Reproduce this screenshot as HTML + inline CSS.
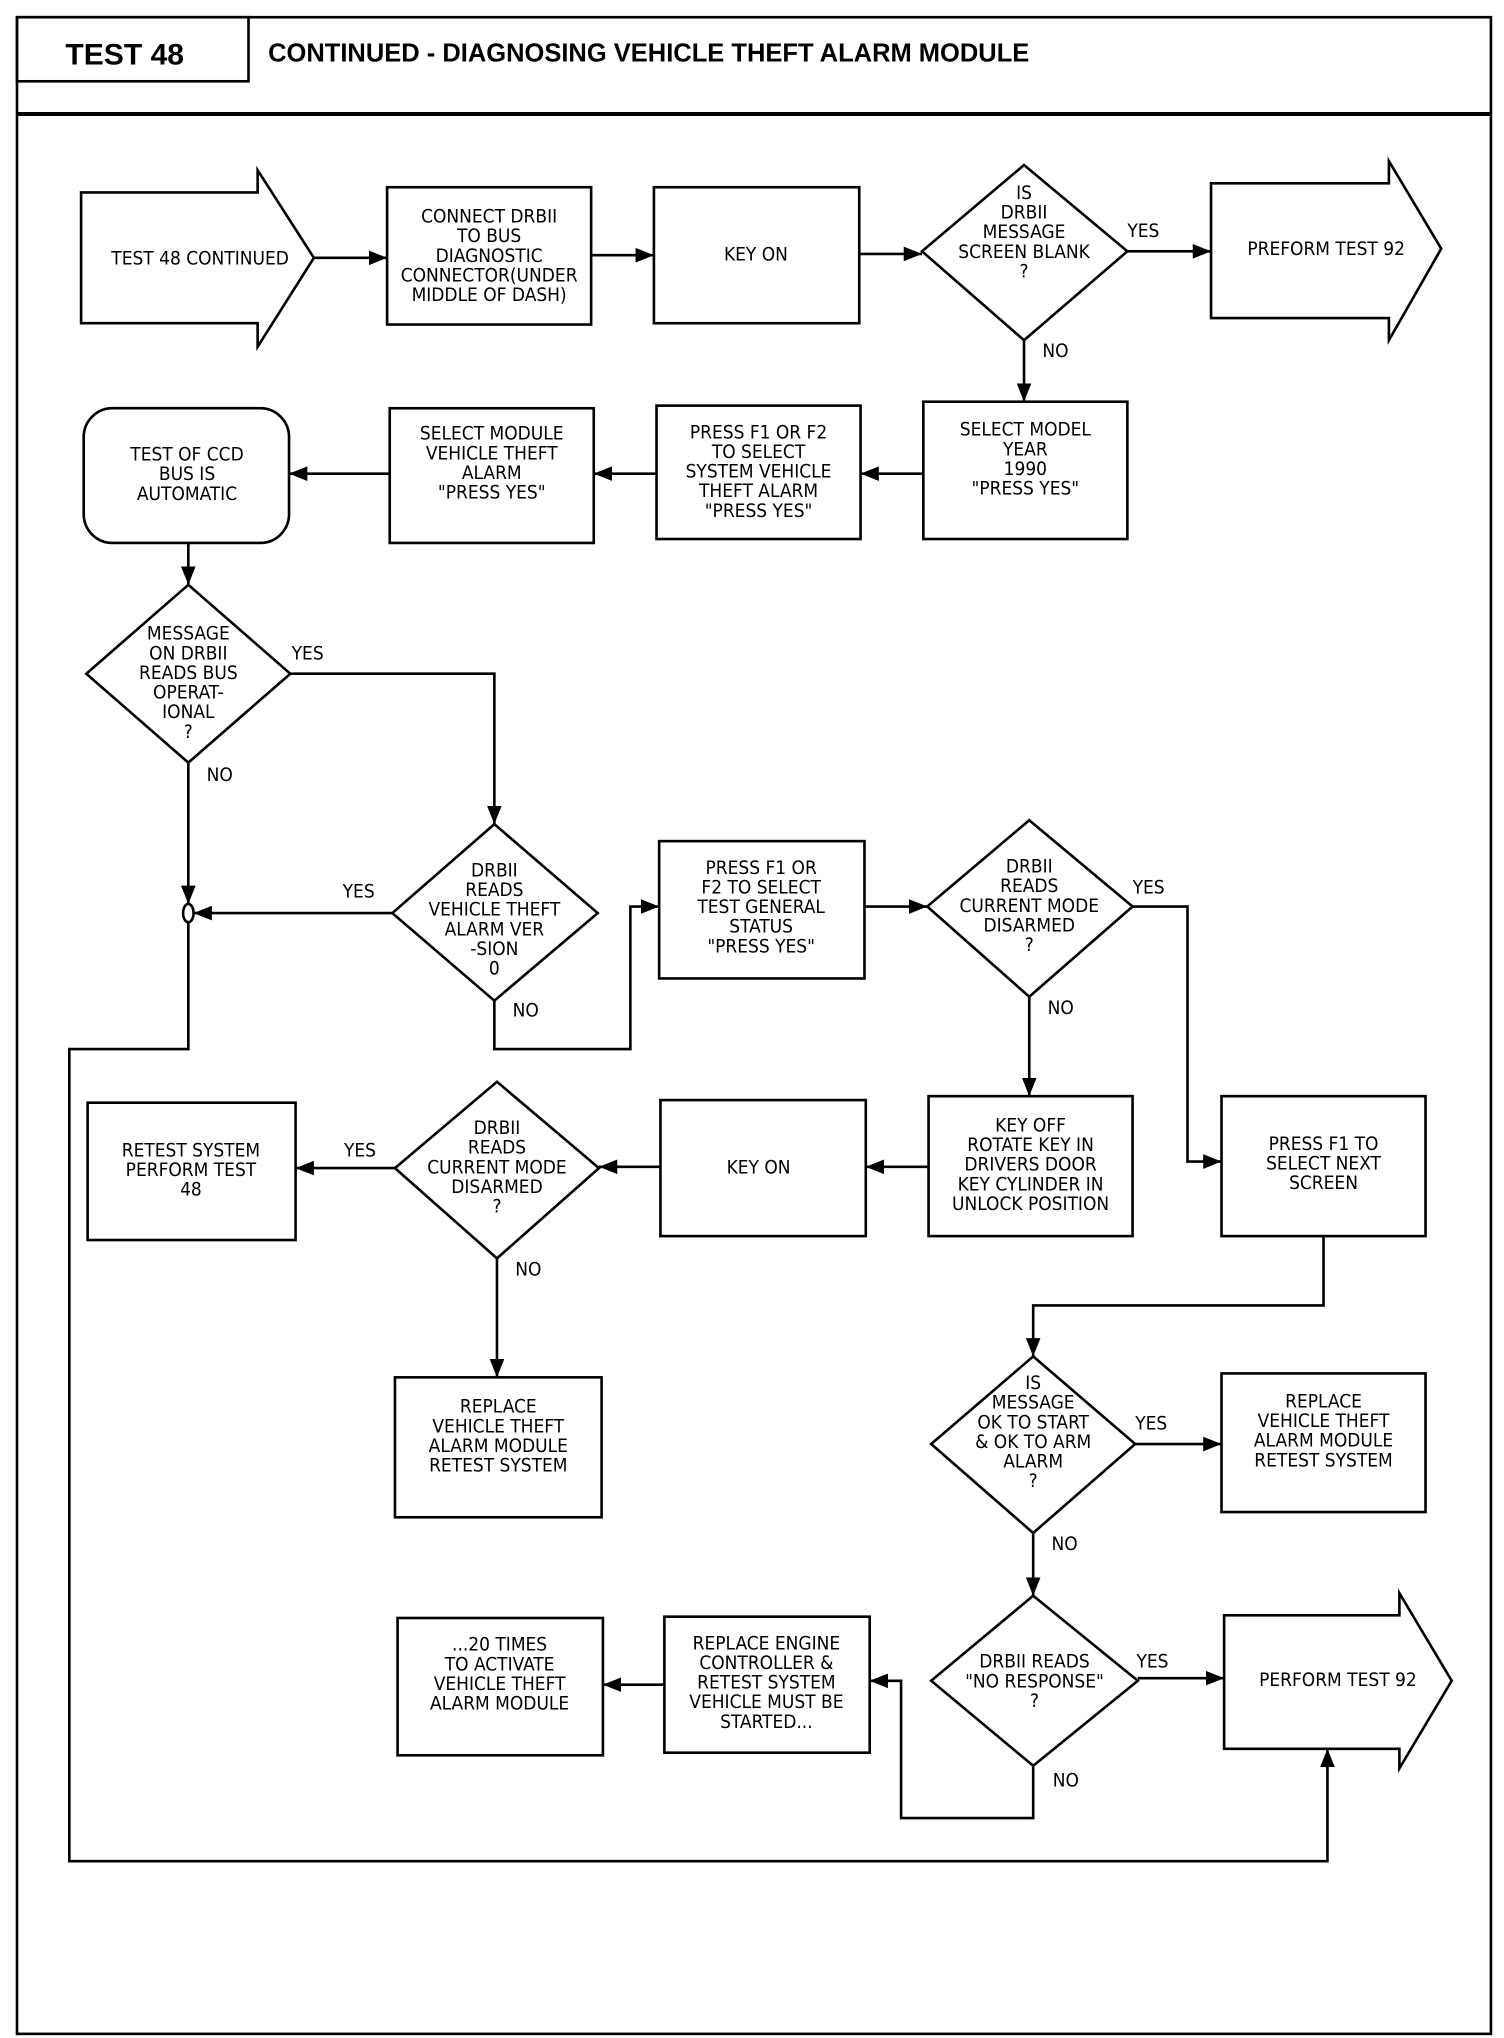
<!DOCTYPE html>
<html><head><meta charset="utf-8"><style>
html,body{margin:0;padding:0;background:#fff;}
svg{display:block;}
text{font-family:"DejaVu Sans Condensed","Liberation Sans Narrow","Liberation Sans",sans-serif;font-size:14.5px;fill:#000;text-anchor:middle;}
.l{text-anchor:start;}
.t{font-family:"Liberation Sans",sans-serif;font-weight:bold;text-anchor:start;}
</style></head><body>
<svg width="1504" height="2038" viewBox="0 0 1150 1558" xmlns="http://www.w3.org/2000/svg">
<defs><marker id="a" viewBox="0 0 10 10" refX="10" refY="5" markerWidth="7" markerHeight="7" orient="auto"><path d="M0,1 L10,5 L0,9 z" fill="#000"/></marker></defs>
<g fill="none" stroke="#000" stroke-width="2">
<rect x="13" y="13" width="1127" height="1542"/>
<line x1="13" y1="87" x2="1140" y2="87" stroke-width="3"/>
<rect x="13" y="13" width="177" height="49"/>
<polygon points="62,147 197,147 197,130 240,197 197,265 197,247 62,247"/>
<rect x="296" y="143" width="156" height="105"/>
<rect x="500" y="143" width="157" height="104"/>
<polygon points="783,126 862,192 783,260 705,192"/>
<polygon points="926,140 1062,140 1062,123 1102,190 1062,260 1062,243 926,243"/>
<rect x="706" y="307" width="156" height="105"/>
<rect x="502" y="310" width="156" height="102"/>
<rect x="298" y="312" width="156" height="103"/>
<rect x="64" y="312" width="157" height="103" rx="22"/>
<polygon points="144,447 222,515 144,583 66,515"/>
<polygon points="378,630 457,698 378,765 300,698"/>
<rect x="504" y="643" width="157" height="105"/>
<polygon points="787,627 866,693 787,762 709,693"/>
<rect x="710" y="838" width="156" height="107"/>
<rect x="934" y="838" width="156" height="107"/>
<rect x="505" y="841" width="157" height="104"/>
<polygon points="380,827 458,893 380,962 302,893"/>
<rect x="67" y="843" width="159" height="105"/>
<rect x="302" y="1053" width="158" height="107"/>
<polygon points="790,1037 868,1104 790,1172 712,1104"/>
<rect x="934" y="1050" width="156" height="106"/>
<polygon points="790,1220 870,1285 790,1350 712,1285"/>
<polygon points="936,1235 1070,1235 1070,1218 1110,1285 1070,1352 1070,1337 936,1337"/>
<rect x="508" y="1236" width="157" height="104"/>
<rect x="304" y="1237" width="157" height="105"/>
<ellipse cx="144" cy="698" rx="4" ry="7"/>
</g>
<g fill="none" stroke="#000" stroke-width="2" marker-end="url(#a)">
<line x1="240" y1="197" x2="296" y2="197"/>
<line x1="452" y1="195" x2="500" y2="195"/>
<line x1="657" y1="194" x2="705" y2="194"/>
<line x1="862" y1="192" x2="926" y2="192"/>
<line x1="783" y1="260" x2="783" y2="307"/>
<line x1="706" y1="362" x2="658" y2="362"/>
<line x1="502" y1="362" x2="454" y2="362"/>
<line x1="298" y1="362" x2="221" y2="362"/>
<line x1="144" y1="415" x2="144" y2="447"/>
<polyline points="222,515 378,515 378,630"/>
<line x1="144" y1="583" x2="144" y2="691"/>
<line x1="300" y1="698" x2="148" y2="698"/>
<polyline points="378,765 378,802 482,802 482,693 504,693"/>
<line x1="661" y1="693" x2="709" y2="693"/>
<polyline points="866,693 908,693 908,888 934,888"/>
<line x1="787" y1="762" x2="787" y2="838"/>
<line x1="710" y1="892" x2="662" y2="892"/>
<line x1="505" y1="892" x2="458" y2="892"/>
<line x1="302" y1="893" x2="226" y2="893"/>
<line x1="380" y1="962" x2="380" y2="1053"/>
<polyline points="1012,945 1012,998 790,998 790,1037"/>
<line x1="868" y1="1104" x2="934" y2="1104"/>
<line x1="790" y1="1172" x2="790" y2="1220"/>
<line x1="870" y1="1283" x2="936" y2="1283"/>
<polyline points="790,1350 790,1390 689,1390 689,1285 665,1285"/>
<line x1="508" y1="1288" x2="461" y2="1288"/>
<polyline points="144,705 144,802 53,802 53,1423 1015,1423 1015,1337"/>
</g>
<text class="t" x="50" y="49" style="font-size:23px">TEST 48</text>
<text class="t" x="205" y="47" style="font-size:19.5px">CONTINUED - DIAGNOSING VEHICLE THEFT ALARM MODULE</text>
<text x="153" y="202">TEST 48 CONTINUED</text>
<text x="374" y="170">CONNECT DRBII</text><text x="374" y="185">TO BUS</text><text x="374" y="200">DIAGNOSTIC</text><text x="374" y="215">CONNECTOR(UNDER</text><text x="374" y="230">MIDDLE OF DASH)</text>
<text x="578" y="199">KEY ON</text>
<text x="783" y="152">IS</text><text x="783" y="167">DRBII</text><text x="783" y="182">MESSAGE</text><text x="783" y="197">SCREEN BLANK</text><text x="783" y="212">?</text>
<text x="1014" y="195">PREFORM TEST 92</text>
<text class="l" x="862" y="181">YES</text><text class="l" x="797" y="273">NO</text>
<text x="784" y="333">SELECT MODEL</text><text x="784" y="348">YEAR</text><text x="784" y="363">1990</text><text x="784" y="378">"PRESS YES"</text>
<text x="580" y="335">PRESS F1 OR F2</text><text x="580" y="350">TO SELECT</text><text x="580" y="365">SYSTEM VEHICLE</text><text x="580" y="380">THEFT ALARM</text><text x="580" y="395">"PRESS YES"</text>
<text x="376" y="336">SELECT MODULE</text><text x="376" y="351">VEHICLE THEFT</text><text x="376" y="366">ALARM</text><text x="376" y="381">"PRESS YES"</text>
<text x="143" y="352">TEST OF CCD</text><text x="143" y="367">BUS IS</text><text x="143" y="382">AUTOMATIC</text>
<text x="144" y="489">MESSAGE</text><text x="144" y="504">ON DRBII</text><text x="144" y="519">READS BUS</text><text x="144" y="534">OPERAT-</text><text x="144" y="549">IONAL</text><text x="144" y="564">?</text>
<text class="l" x="223" y="504">YES</text><text class="l" x="158" y="597">NO</text>
<text x="378" y="670">DRBII</text><text x="378" y="685">READS</text><text x="378" y="700">VEHICLE THEFT</text><text x="378" y="715">ALARM VER</text><text x="378" y="730">-SION</text><text x="378" y="745">0</text>
<text class="l" x="262" y="686">YES</text><text class="l" x="392" y="777">NO</text>
<text x="582" y="668">PRESS F1 OR</text><text x="582" y="683">F2 TO SELECT</text><text x="582" y="698">TEST GENERAL</text><text x="582" y="713">STATUS</text><text x="582" y="728">"PRESS YES"</text>
<text x="787" y="667">DRBII</text><text x="787" y="682">READS</text><text x="787" y="697">CURRENT MODE</text><text x="787" y="712">DISARMED</text><text x="787" y="727">?</text>
<text class="l" x="866" y="683">YES</text><text class="l" x="801" y="775">NO</text>
<text x="788" y="865">KEY OFF</text><text x="788" y="880">ROTATE KEY IN</text><text x="788" y="895">DRIVERS DOOR</text><text x="788" y="910">KEY CYLINDER IN</text><text x="788" y="925">UNLOCK POSITION</text>
<text x="1012" y="879">PRESS F1 TO</text><text x="1012" y="894">SELECT NEXT</text><text x="1012" y="909">SCREEN</text>
<text x="580" y="897">KEY ON</text>
<text x="380" y="867">DRBII</text><text x="380" y="882">READS</text><text x="380" y="897">CURRENT MODE</text><text x="380" y="912">DISARMED</text><text x="380" y="927">?</text>
<text class="l" x="263" y="884">YES</text><text class="l" x="394" y="975">NO</text>
<text x="146" y="884">RETEST SYSTEM</text><text x="146" y="899">PERFORM TEST</text><text x="146" y="914">48</text>
<text x="381" y="1080">REPLACE</text><text x="381" y="1095">VEHICLE THEFT</text><text x="381" y="1110">ALARM MODULE</text><text x="381" y="1125">RETEST SYSTEM</text>
<text x="790" y="1062">IS</text><text x="790" y="1077">MESSAGE</text><text x="790" y="1092">OK TO START</text><text x="790" y="1107">&amp; OK TO ARM</text><text x="790" y="1122">ALARM</text><text x="790" y="1137">?</text>
<text class="l" x="868" y="1093">YES</text><text class="l" x="804" y="1185">NO</text>
<text x="1012" y="1076">REPLACE</text><text x="1012" y="1091">VEHICLE THEFT</text><text x="1012" y="1106">ALARM MODULE</text><text x="1012" y="1121">RETEST SYSTEM</text>
<text x="791" y="1275">DRBII READS</text><text x="791" y="1290">"NO RESPONSE"</text><text x="791" y="1305">?</text>
<text class="l" x="869" y="1275">YES</text><text class="l" x="805" y="1366">NO</text>
<text x="1023" y="1289">PERFORM TEST 92</text>
<text x="586" y="1261">REPLACE ENGINE</text><text x="586" y="1276">CONTROLLER &amp;</text><text x="586" y="1291">RETEST SYSTEM</text><text x="586" y="1306">VEHICLE MUST BE</text><text x="586" y="1321">STARTED...</text>
<text x="382" y="1262">...20 TIMES</text><text x="382" y="1277">TO ACTIVATE</text><text x="382" y="1292">VEHICLE THEFT</text><text x="382" y="1307">ALARM MODULE</text>
</svg>
</body></html>
